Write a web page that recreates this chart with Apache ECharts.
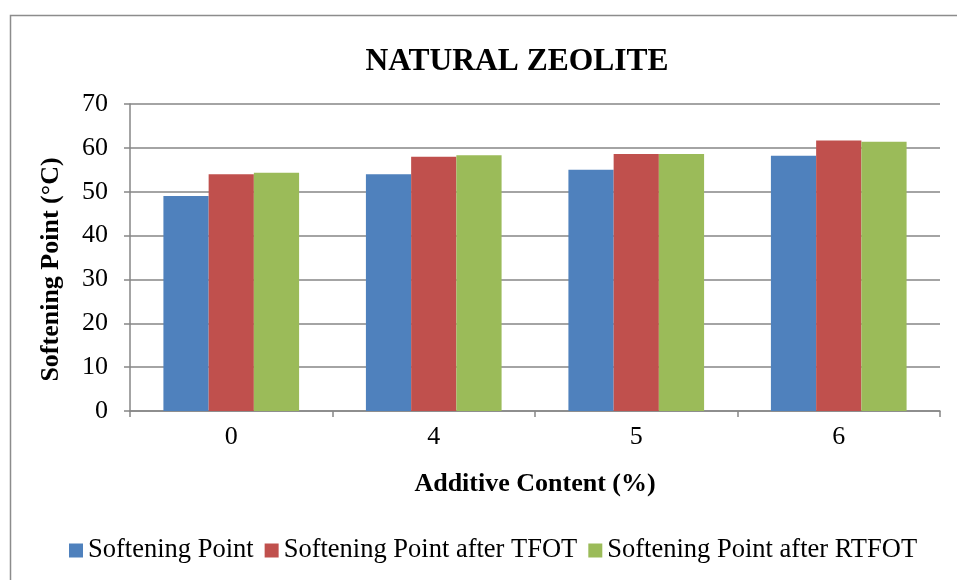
<!DOCTYPE html>
<html>
<head>
<meta charset="utf-8">
<script src="https://cdn.jsdelivr.net/npm/echarts@6/dist/echarts.min.js"></script>
<style>html,body{margin:0;padding:0;background:#fff;}#c{width:957px;height:580px;}</style>
</head>
<body>
<div id="c"></div>
<script>
const categories = ['0', '4', '5', '6'];
const softeningPoint = [49.0, 54.0, 55.0, 58.2];
const afterTFOT = [54.0, 58.0, 58.6, 61.7];
const afterRTFOT = [54.3, 58.3, 58.6, 61.4];
const seriesNames = ['Softening Point', 'Softening Point after TFOT', 'Softening Point after RTFOT'];
const colors = ['#4F81BD', '#C0504D', '#9BBB59'];

const font = '"Liberation Serif", "Times New Roman", serif';
const chart = echarts.init(document.getElementById('c'), null, {renderer: 'canvas'});
const mk = (name, data, color) => ({
  name, type: 'bar', data, barGap: '0%', barCategoryGap: '33%',
  itemStyle: {color}
});
chart.setOption({
  animation: false,
  color: colors,
  graphic: [{
    type: 'rect', left: 8, top: 13, shape: {width: 1200, height: 1200},
    style: {fill: 'none', stroke: '#8c8c8c', lineWidth: 1.5}, silent: true, z: -1
  }],
  title: {
    text: 'NATURAL ZEOLITE', left: 512, top: 41, textAlign: 'center',
    textStyle: {fontFamily: font, fontWeight: 'bold', fontSize: 31.5, color: '#000'}
  },
  legend: {
    bottom: 11, left: 64, itemWidth: 14, itemHeight: 14, itemGap: 11,
    icon: 'rect',
    textStyle: {fontFamily: font, fontSize: 26.5, color: '#000', padding: [0, 0, 0, 0]},
    data: seriesNames
  },
  grid: {left: 130, right: 17, top: 104, bottom: 169, containLabel: false},
  xAxis: {
    type: 'category', data: categories,
    name: 'Additive Content (%)', nameLocation: 'middle', nameGap: 60,
    nameTextStyle: {fontFamily: font, fontWeight: 'bold', fontSize: 26, color: '#000'},
    axisLine: {lineStyle: {color: '#868686', width: 1.5}},
    axisTick: {show: true, alignWithLabel: false, length: 6, lineStyle: {color: '#868686', width: 1.5}},
    axisLabel: {fontFamily: font, fontSize: 26, color: '#000', margin: 13}
  },
  yAxis: {
    type: 'value', min: 0, max: 70, interval: 10,
    name: 'Softening Point (°C)', nameLocation: 'middle', nameGap: 66,
    nameTextStyle: {fontFamily: font, fontWeight: 'bold', fontSize: 26, color: '#000', padding: [0, 24, 0, 0]},
    axisLine: {show: true, lineStyle: {color: '#868686', width: 1.5}},
    axisTick: {show: true, length: 6, lineStyle: {color: '#868686', width: 1.5}},
    axisLabel: {fontFamily: font, fontSize: 26, color: '#000', margin: 22},
    splitLine: {lineStyle: {color: '#868686', width: 1.5}}
  },
  series: [
    mk(seriesNames[0], softeningPoint, colors[0]),
    mk(seriesNames[1], afterTFOT, colors[1]),
    mk(seriesNames[2], afterRTFOT, colors[2])
  ]
});
</script>
</body>
</html>
